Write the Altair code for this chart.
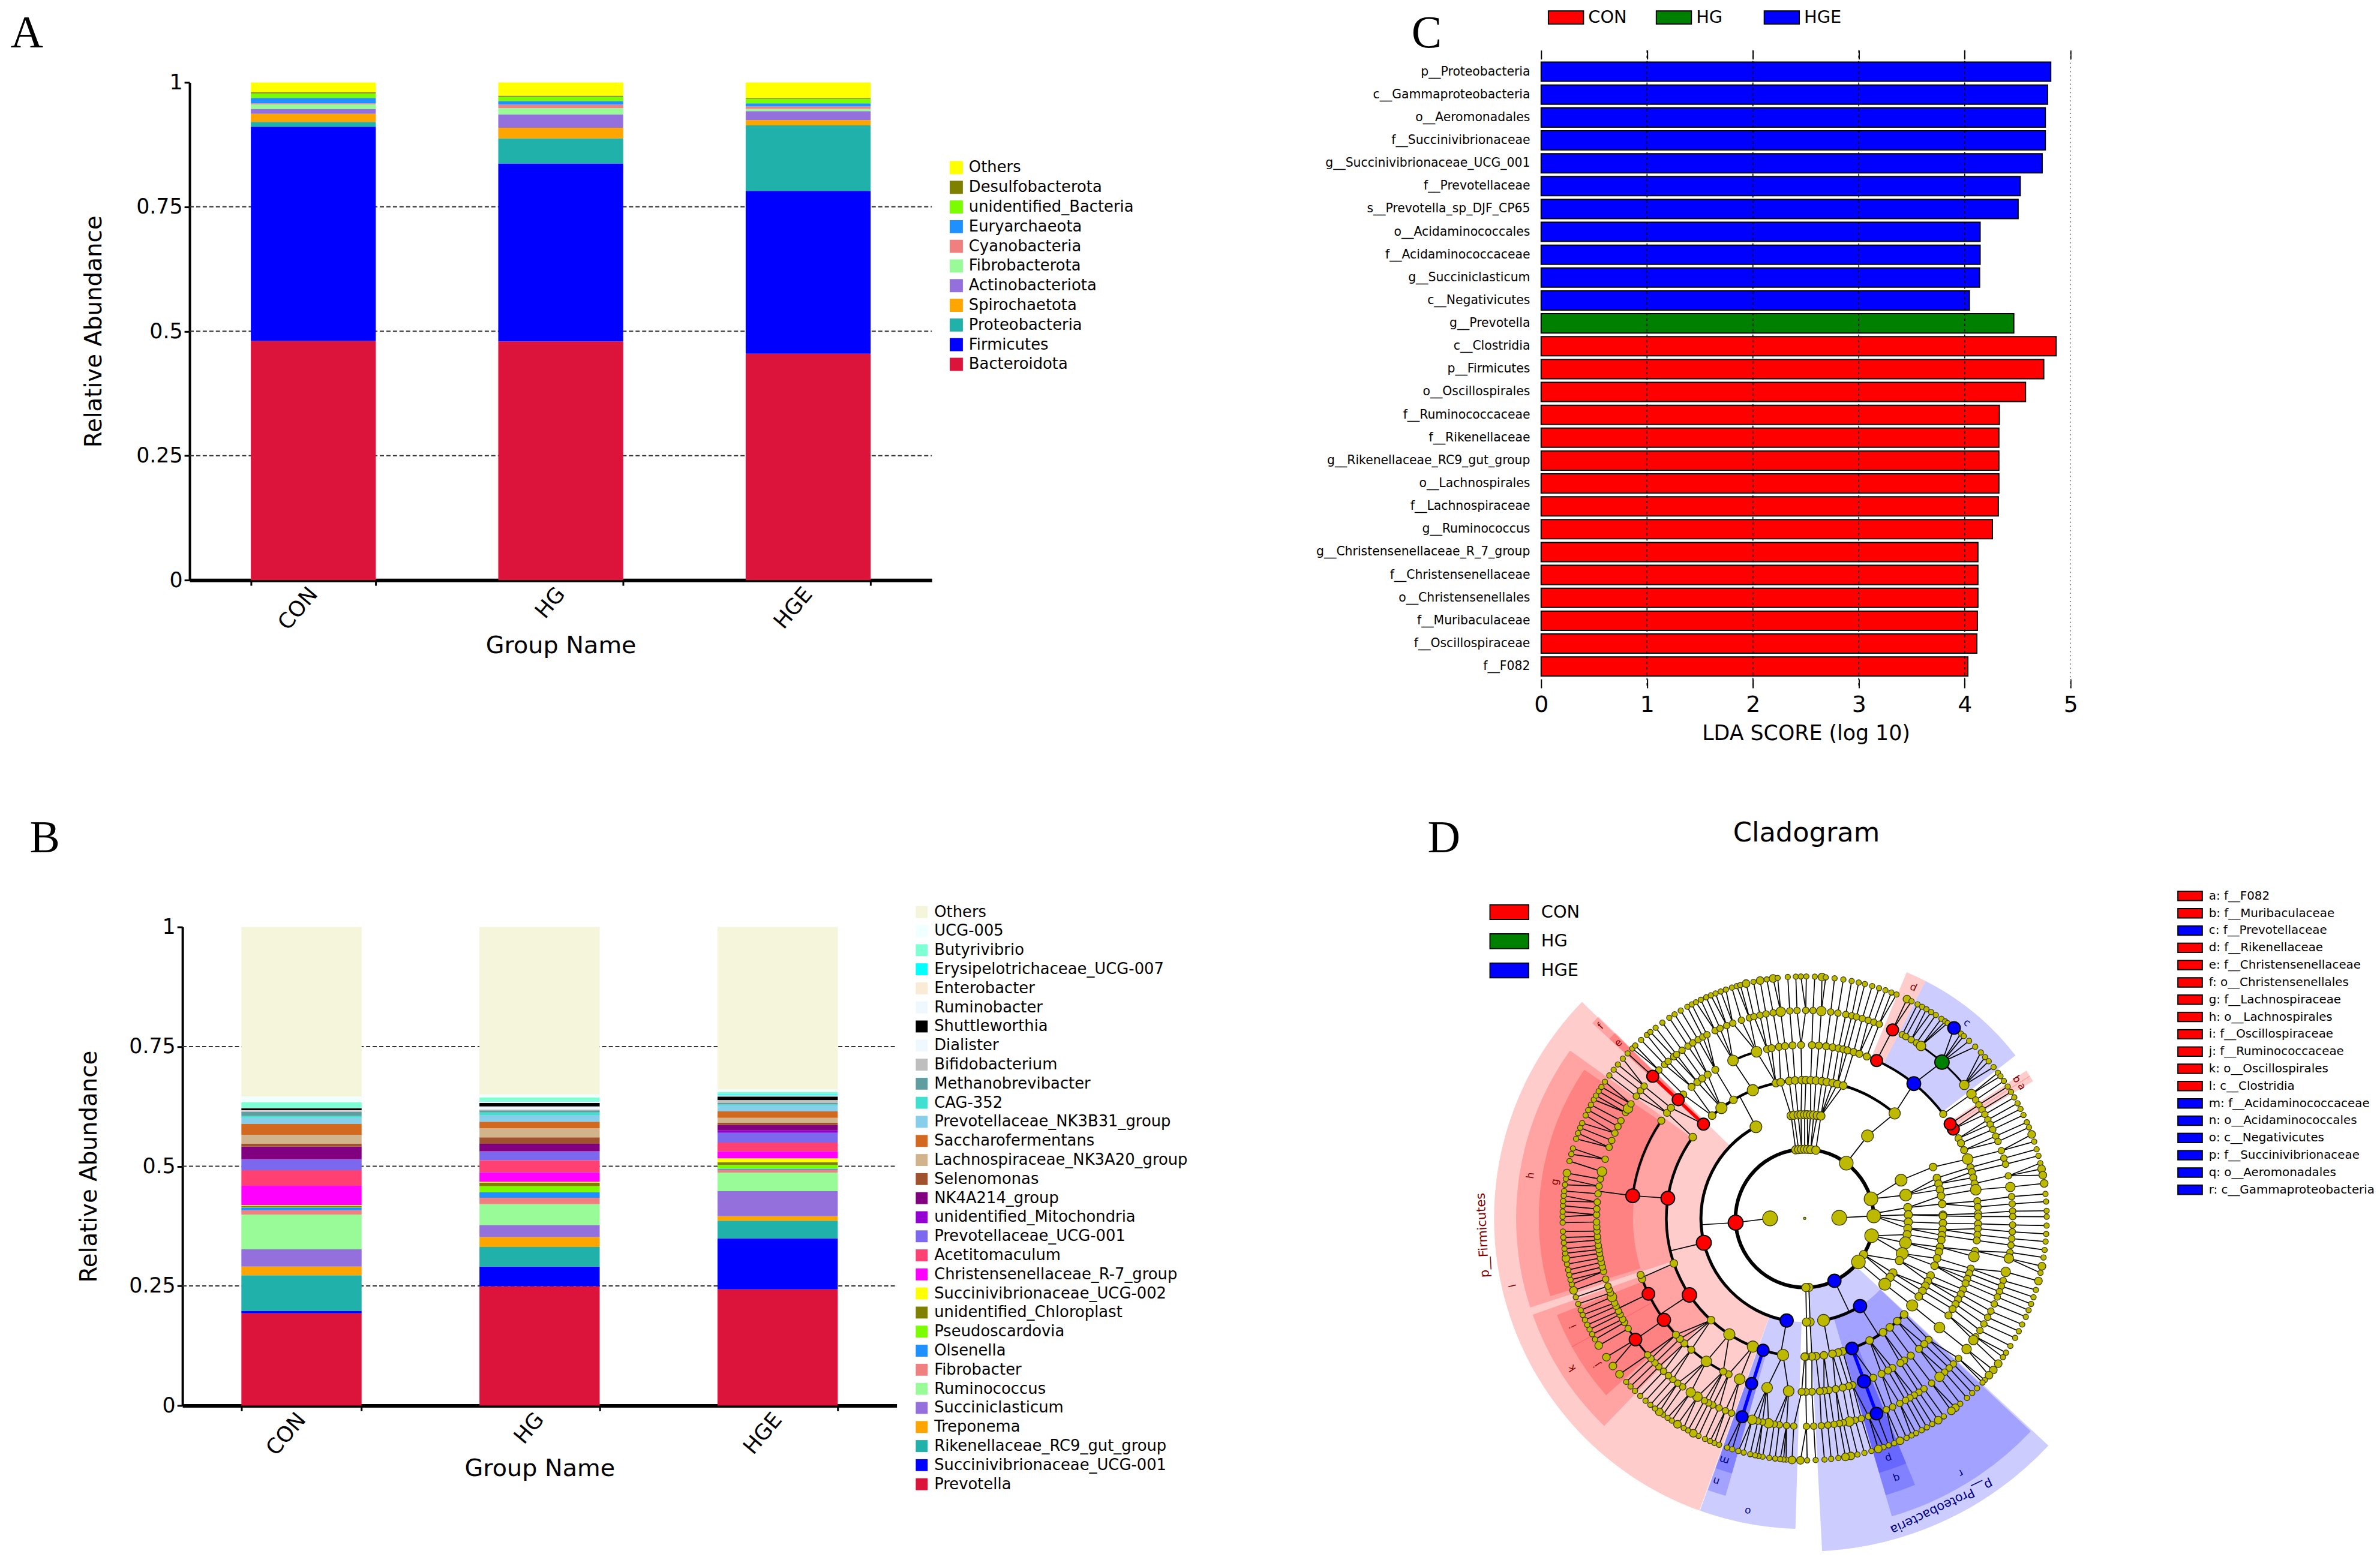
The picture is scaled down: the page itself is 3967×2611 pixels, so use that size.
import math
import altair as alt
import pandas as pd

FONT = "DejaVu Sans"
SERIF = "Liberation Serif"
GROUPS = ["CON", "HG", "HGE"]
W, H = 3959, 2603

# ---------- Panel A : cumulative tops ----------
A_TAXA = ["Bacteroidota", "Firmicutes", "Proteobacteria", "Spirochaetota", "Actinobacteriota",
          "Fibrobacterota", "Cyanobacteria", "Euryarchaeota", "unidentified_Bacteria",
          "Desulfobacterota", "Others"]
A_COLORS = ["#DC143C", "#0000FF", "#20B2AA", "#FFA500", "#9370DB", "#98FB98", "#F08080",
            "#1E90FF", "#7CFC00", "#808000", "#FFFF00"]
A_CON = [.4805, .911, .9208, .937, .947, .956, .958, .969, .978, .980, 1]
A_HG = [.4796, .8373, .8875, .9088, .9357, .9485, .9554, .9626, .9714, .9734, 1]
A_HGE = [.4548, .782, .9136, .9244, .9425, .947, .9518, .958, .967, .969, 1]

# ---------- Panel B ----------
B_TAXA = ["Prevotella", "Succinivibrionaceae_UCG-001", "Rikenellaceae_RC9_gut_group", "Treponema",
          "Succiniclasticum", "Ruminococcus", "Fibrobacter", "Olsenella", "Pseudoscardovia",
          "unidentified_Chloroplast", "Succinivibrionaceae_UCG-002", "Christensenellaceae_R-7_group",
          "Acetitomaculum", "Prevotellaceae_UCG-001", "unidentified_Mitochondria", "NK4A214_group",
          "Selenomonas", "Lachnospiraceae_NK3A20_group", "Saccharofermentans",
          "Prevotellaceae_NK3B31_group", "CAG-352", "Methanobrevibacter", "Bifidobacterium",
          "Dialister", "Shuttleworthia", "Ruminobacter", "Enterobacter",
          "Erysipelotrichaceae_UCG-007", "Butyrivibrio", "UCG-005", "Others"]
B_COLORS = ["#DC143C", "#0000FF", "#20B2AA", "#FFA500", "#9370DB", "#98FB98", "#F08080", "#1E90FF",
            "#7CFC00", "#808000", "#FFFF00", "#FF00FF", "#FF4073", "#7B68EE", "#9400D3", "#800080",
            "#A0522D", "#D2B48C", "#D2691E", "#87CEEB", "#40E0D0", "#5F9EA0", "#BEBEBE", "#F0F8FF",
            "#000000", "#F0F8FF", "#FAEBD7", "#00FFFF", "#7FFFD4", "#F0FFFF", "#F5F5DC"]
B_CON = [.1925, .1979, .2721, .2904, .3263, .3992, .4083, .4138, .4146, .4167, .4188, .4592, .4917,
         .5138, .5146, .5409, .5471, .5658, .5883, .6013, .6050, .6138, .6167, .6170, .6209, .6212,
         .6215, .6218, .6342, .6458, 1]
B_HG = [.2492, .2904, .3313, .3521, .3771, .4208, .4342, .4458, .4583, .4654, .4675, .4875, .5125,
        .5304, .5313, .5471, .5604, .5792, .5929, .6071, .6125, .6167, .6188, .625, .6321, .6346,
        .6354, .6362, .6438, .65, 1]
B_HGE = [.2429, .3492, .3863, .3958, .4479, .4867, .4929, .495, .5029, .5083, .5167, .5313, .5496,
         .57, .575, .5863, .5908, .6013, .6146, .6271, .6292, .6321, .6375, .6383, .6458, .6471,
         .6479, .65, .6554, .6604, 1]

# ---------- Panel C ----------
C_NAMES = ["p__Proteobacteria", "c__Gammaproteobacteria", "o__Aeromonadales", "f__Succinivibrionaceae",
           "g__Succinivibrionaceae_UCG_001", "f__Prevotellaceae", "s__Prevotella_sp_DJF_CP65",
           "o__Acidaminococcales", "f__Acidaminococcaceae", "g__Succiniclasticum", "c__Negativicutes",
           "g__Prevotella", "c__Clostridia", "p__Firmicutes", "o__Oscillospirales", "f__Ruminococcaceae",
           "f__Rikenellaceae", "g__Rikenellaceae_RC9_gut_group", "o__Lachnospirales", "f__Lachnospiraceae",
           "g__Ruminococcus", "g__Christensenellaceae_R_7_group", "f__Christensenellaceae",
           "o__Christensenellales", "f__Muribaculaceae", "f__Oscillospiraceae", "f__F082"]
C_VALUES = [4.813, 4.783, 4.762, 4.762, 4.732, 4.525, 4.505, 4.146, 4.146, 4.141, 4.045, 4.464, 4.864,
            4.747, 4.575, 4.328, 4.323, 4.323, 4.323, 4.318, 4.262, 4.125, 4.125, 4.125, 4.12, 4.115, 4.03]
C_GROUP = ["HGE"] * 11 + ["HG"] + ["CON"] * 15

# ---------- Panel D : angles in degrees clockwise from the top, one list per ring ----------
RADII = [58, 116, 174, 232, 291, 349, 406]
RING1 = [270, 89]
RING2 = [352.6, 355, 357.5, 0, 2.5, 5, 9.3, 37, 73.6, 86, 88, 104.5, 121.6, 129, 176.5, 179]
RING3 = [332, 352.5, 354, 356.4, 358, 0, 1.5, 3.3, 5, 7, 9, 37.3, 68.4, 77, 84, 88, 92, 95.6, 99, 103.6,
         109.8, 114, 121.7, 124.6, 129.4, 169.5, 177, 179]
RING4 = [306, 318, 323, 329, 338, 348, 350, 353.6, 356, 358.8, 0.5, 2.5, 4.7, 7.2, 9.2, 11.7, 13.7, 16.2,
         40.6, 68.2, 73, 75.5, 78, 80.6, 84, 88.5, 89, 92, 94.7, 97, 99, 102, 104, 106.8, 110, 114.4, 117,
         119.2, 121.6, 124.4, 129, 134, 138, 142, 145.5, 152, 164, 166, 168.4, 172, 175.3, 177, 179.5,
         180, 189, 202, 213, 222.6, 251]
RING5 = [2.4, 4.7, 7.1, 9.3, 11.3, 12.9, 14.3, 16.4, 18.4, 21, 53, 62.5, 64.3, 66.8, 70, 72.9, 74.5, 76.4,
         78.4, 80.5, 84.3, 86.2, 88.4, 89.4, 91.8, 93.4, 95.4, 97.3, 100.8, 102.7, 106.8, 108.5, 110.4,
         112, 114.2, 115.9, 117.8, 119.6, 121.5, 124, 129, 134.4, 136.4, 138.8, 142.3, 145, 146.5, 149.6,
         151.3, 153.7, 156.7, 164, 165.3, 167.3, 169.7, 172, 173.6, 175, 177.6, 179.6, 181, 185.3, 192.5,
         202, 206, 208, 214.5, 220.8, 223.9, 226, 227.9, 249.5, 251, 304.3, 307.5, 309.6, 315.6, 319.3,
         321.8, 323.8, 326, 329, 335.6, 343.9, 347.5, 349, 351.5, 353.5, 356, 358.8]
RING6 = [0.3, 2.3, 4.6, 7.2, 9.2, 11.4, 13.1, 14.4, 16.1, 17.8, 19.4, 21, 28, 29.1, 30.8, 32.5, 34, 50.1,
         53.3, 55.3, 56.9, 58.5, 60, 61.7, 63.1, 64.7, 66.7, 68.3, 71, 73.2, 74.9, 78.2, 81.3, 84, 86, 88,
         89.5, 91.8, 93.7, 95.6, 97.4, 99.4, 101.1, 104.9, 107.4, 109, 110.6, 112.2, 114.3, 116.5, 118.4,
         120.5, 122.6, 124.7, 125.8, 128.9, 132.3, 134.4, 136, 137.7, 139.6, 142.4, 145, 146.7, 148.2,
         149.6, 151, 152.8, 155, 156.9, 162.1, 164.2, 165.9, 167.6, 169.3, 170.4, 171.9, 173.6, 175.4,
         177.5, 179.5, 183, 185, 187, 188.4, 190, 191.7, 193, 194.6, 200.6, 202.4, 204.3, 206.2, 207.5,
         208.8, 211, 213.2, 215.9, 217.6, 219.3, 220.9, 222.7, 224.5, 226, 227.6, 229, 238, 240, 241,
         242.5, 243.5, 245, 246, 247.8, 249, 250, 251, 253, 255.2, 256.5, 257.8, 259, 260.3, 261.4, 262.5,
         264, 265, 266.5, 267.7, 269, 271, 272.6, 274.5, 276.8, 278.9, 280.9, 283, 286.5, 290, 292, 294.2,
         296.2, 298, 300.6, 301.9, 303.4, 306, 307.9, 309.5, 315.5, 317.7, 319, 321, 322, 323.9, 325.9,
         327.5, 329.2, 330.7, 332, 334.5, 336, 338, 339.8, 342.3, 344.6, 345.9, 347.6, 349.3, 351.3, 353.4,
         355.9, 357.9]
RING7 = [0.4, 2.4, 4.1, 5, 7.1, 9.2, 11.2, 12.9, 14.4, 16.2, 17.9, 19.5, 21, 22.3, 25, 26.2, 27.8, 29, 30.2,
         31.5, 32.8, 34.4, 35.5, 36.2, 40.2, 41.1, 42.8, 44.8, 46.7, 48.2, 49.5, 51.3, 53, 54, 55.4, 57,
         58.5, 60, 61.6, 63.1, 64.7, 66.6, 67.9, 69.7, 71.5, 73.4, 75, 76.8, 78.2, 79.7, 81.7, 84.2, 86,
         88.2, 89.6, 91.7, 93.7, 95.5, 97.5, 99.3, 101.4, 103, 105, 107.2, 109, 110.7, 112.3, 114, 116,
         117.8, 119.6, 121.8, 123.7, 125, 126.9, 128.8, 130.4, 131.9, 132.7, 134.6, 136.2, 137.9, 140,
         141.5, 142.7, 144.9, 146.5, 148.2, 149.7, 151.1, 152.6, 153.8, 155.1, 156.8, 158.3, 159.7, 161,
         162.3, 164, 165.7, 167.4, 169, 170.3, 172, 173.7, 175.3, 177.4, 179.4, 181, 183, 184.4, 185,
         185.8, 187, 188.4, 190, 191, 191.8, 193, 194.6, 195.9, 197.4, 198.7, 200.7, 201.9, 203, 204.3,
         206, 207.4, 208.8, 210, 211.7, 213.3, 214.5, 215.8, 216.9, 218.2, 219.6, 221.1, 222.8, 224.5, 226,
         227.5, 229.9, 232.4, 235, 238.3, 240, 241.4, 242.7, 243.9, 245.2, 246.5, 247.7, 249.3, 251, 252.7,
         254.2, 255.3, 256.5, 257.7, 259.1, 260.5, 261.7, 262.8, 264.2, 265.5, 266.9, 269, 270.4, 271.6,
         273, 274.1, 275.4, 276.5, 278, 279.4, 280.8, 283.7, 285.4, 286.8, 289.2, 290.6, 292, 293.2, 295.2,
         296.6, 298, 299.4, 300.5, 301.7, 302.9, 304.4, 306.2, 307.9, 309.5, 311.3, 313, 314.6, 315.6,
         317.5, 319.3, 320.4, 322, 324, 326, 327.5, 329.2, 331, 332.2, 333.3, 334.6, 336, 337.2, 338.4,
         339.7, 341, 342.5, 343.7, 344.6, 346, 347.8, 349.4, 351, 352.5, 353.6, 356, 357.9, 359.1]
RINGS = [RING1, RING2, RING3, RING4, RING5, RING6, RING7]
BIG = [[270, 89], [37, 73.6, 88, 104.5, 129],
       [332, 37.3, 68.4, 77, 103.6, 109.8, 129.4, 169.5],
       [323, 338, 40.6, 129, 189, 202, 213],
       [335.6, 343.9, 70, 80.5, 102.7, 129, 185.3, 192.5, 202, 214.5],
       [4.6, 34, 50.1, 53.3, 81.3, 101.1, 104.9, 125.8, 128.9, 139.6, 167.6, 190, 194.6, 211, 213.2,
        247.8, 283, 301.9, 353.4],
       [4.1, 25, 69.7, 78.2, 79.7, 81.7, 101.4, 105, 126.9, 128.8, 130.4, 141.5, 142.7, 146.5, 156.8,
        162.3, 169, 170.3, 181, 183, 207.4, 211.7, 216.9, 229.9, 232.4, 235, 238.3, 252.7, 260.5, 280.8,
        346, 349.4, 352.5]]
DIAM = [(25, 25), (14, 23), (14, 20), (13, 19), (12, 18), (11, 16), (9, 13)]
# ring radius, angle, colour, diameter
MARKED = [(116, 266.5, "#FF0000", 25), (116, 154.5, "#0000FF", 22), (174, 256.4, "#FF0000", 25),
          (174, 190, "#0000FF", 22), (174, 147.7, "#0000FF", 22), (232, 236.4, "#FF0000", 24),
          (232, 278.4, "#FF0000", 23), (232, 313, "#FF0000", 20), (232, 197.5, "#0000FF", 20),
          (232, 160, "#0000FF", 21), (291, 234.2, "#FF0000", 22), (291, 244.2, "#FF0000", 21),
          (291, 277.5, "#FF0000", 23), (291, 313.2, "#FF0000", 20), (291, 24.5, "#FF0000", 20),
          (291, 59, "#FF0000", 20), (291, 57, "#FF0000", 20), (291, 197.8, "#0000FF", 20),
          (291, 160, "#0000FF", 22), (291, 39, "#0000FF", 23), (349, 234.4, "#FF0000", 21),
          (349, 313.1, "#FF0000", 20), (349, 25, "#FF0000", 20), (349, 41.3, "#008000", 24),
          (349, 197.5, "#0000FF", 20), (349, 159.8, "#0000FF", 21), (406, 38.1, "#0000FF", 21)]
# start angle, end angle, inner radius, outer radius
RED_WEDGES = [(199.8, 314.2, 175, 521), (252, 305.6, 232, 484), (224, 250.5, 232, 484),
              (253, 304, 288, 446), (241, 248.7, 288, 446), (228.3, 241.2, 288, 446),
              (312.6, 314.4, 232, 484), (312.6, 314.4, 291, 445), (22.5, 27, 291, 447),
              (56.3, 57.8, 291, 447), (57.6, 59, 291, 447)]
BLUE_WEDGES = [(133, 177, 116, 559), (133.3, 163.7, 174, 521), (157.5, 163.7, 232, 484),
               (157.5, 163.7, 291, 445), (181.7, 199.7, 174, 521), (195.9, 199.6, 232, 484),
               (195.9, 199.6, 291, 445), (27, 52.3, 291, 447)]
# ring radius, start angle, end angle, thickness
THICK_ARCS = [(116, 180, 448, 6), (116, 104.5, 176.5, 6), (174, 190, 332, 5), (174, 147.7, 169.5, 5),
              (232, 189, 306, 4.5), (232, 318, 400.6, 4.5), (232, 134, 160, 4.5), (291, 208, 251, 4),
              (291, 278, 304, 4), (291, 335.6, 344, 4), (291, 24.5, 53, 4), (349, 34, 50.1, 3),
              (349, 229, 240, 3)]
# from radius, from angle, to radius, to angle
THIN_LINKS = [(58, 270, 116, 266.5), (58, 89, 116, 88), (116, 266.5, 174, 266.5), (116, 37, 174, 37.3),
              (116, 154.5, 174, 154.5), (116, 176.5, 174, 177), (116, 179, 174, 179),
              (174, 169.5, 232, 169.5), (174, 177, 232, 177), (174, 179, 232, 179), (174, 190, 232, 190),
              (174, 256.4, 232, 256.4), (174, 332, 232, 332), (174, 37.3, 232, 40.6), (174, 129.4, 232, 129),
              (174, 147.7, 232, 147.7), (232, 236.4, 291, 236.4), (232, 278.4, 291, 277.5),
              (232, 251, 291, 250), (232, 40.6, 291, 39), (291, 24.5, 349, 25), (291, 234.2, 349, 234.4),
              (291, 244.2, 349, 244.2), (291, 277.5, 349, 277.5), (291, 39, 349, 41.3), (291, 53, 349, 53.3)]
COLOR_BARS = [(232, 313, 349, 313.1, "#FF0000"), (232, 197.5, 349, 197.5, "#0000FF"),
              (232, 160, 349, 159.8, "#0000FF")]
# Nearest-parent links are left out where the picture has an arc instead of lines.
# The keys are positions in RINGS of the child ring.
SKIP = {2: [(130, 352), (10, 67)], 3: [(126, 349), (20, 65)],
        4: [(279, 306), (17, 68), (233, 252)], 5: [(233, 304), (26, 56)]}
# text, angle around the tree, radius, colour, size
D_LABELS = [("p__Firmicutes", 267, 540, "#800000", 21), ("h", 278.9, 465, "#800000", 17),
            ("g", 278.3, 423, "#800000", 17), ("l", 257, 502, "#800000", 17), ("k", 237.2, 464, "#800000", 17),
            ("i", 245, 428, "#800000", 17), ("j", 234.8, 426, "#800000", 17), ("f", 313.3, 470, "#800000", 17),
            ("e", 313.3, 429, "#800000", 17), ("d", 25.2, 428, "#800000", 17), ("b", 56.7, 425, "#800000", 17),
            ("a", 58.7, 426, "#800000", 17), ("o", 191, 500, "#000080", 17), ("m", 198.4, 427, "#000080", 17),
            ("n", 198.6, 465, "#000080", 17), ("p", 160.7, 426, "#000080", 17), ("q", 160.5, 462, "#000080", 17),
            ("r", 148.5, 501, "#000080", 17), ("c", 39.7, 426, "#000080", 17),
            ("p__Proteobacteria", 154.6, 535, "#000080", 21)]
D_KEY = ["a: f__F082", "b: f__Muribaculaceae", "c: f__Prevotellaceae", "d: f__Rikenellaceae",
         "e: f__Christensenellaceae", "f: o__Christensenellales", "g: f__Lachnospiraceae",
         "h: o__Lachnospirales", "i: f__Oscillospiraceae", "j: f__Ruminococcaceae", "k: o__Oscillospirales",
         "l: c__Clostridia", "m: f__Acidaminococcaceae", "n: o__Acidaminococcales", "o: c__Negativicutes",
         "p: f__Succinivibrionaceae", "q: o__Aeromonadales", "r: c__Gammaproteobacteria"]
D_KEY_COLORS = ["#FF0000", "#FF0000", "#0000FF"] + ["#FF0000"] * 9 + ["#0000FF"] * 6
PANEL_TEXT = ["A", "B", "C", "D"]


def long_table(taxa, *series):
    rows = []
    for group, tops in zip(GROUPS, series):
        low = 0
        for taxon, top in zip(taxa, tops):
            rows.append({"group": group, "taxon": taxon, "lo": low, "hi": top})
            low = top
    return pd.DataFrame(rows)


def stacked(taxa, colors, table, left, right, top, bottom, leg_x, leg_y, sym, row_pad, lab_size, title_pad,
            x_title_pad):
    y_scale = alt.Scale(domain=[0, 1], nice=False, range=[bottom, top])
    y_axis = alt.Axis(orient="left", offset=-left, title="Relative Abundance", titleFont=FONT,
                      titleFontSize=39, titleFontWeight="normal", titlePadding=title_pad,
                      labelFont=FONT, labelFontSize=35, labelColor="black", values=[0, .25, .5, .75, 1],
                      format=".2~f", grid=False, tickSize=9, tickWidth=3, tickColor="black",
                      domainWidth=4, domainColor="black", labelPadding=3)
    rules = alt.Chart(pd.DataFrame({"v": [.25, .5, .75]})).mark_rule(
        color="#333333", strokeWidth=2, strokeDash=[7, 4]).encode(
        alt.Y("v:Q", scale=y_scale, axis=y_axis), x=alt.value(left), x2=alt.value(right))
    bars = alt.Chart(table).mark_bar().encode(
        alt.X("group:N", sort=GROUPS,
              scale=alt.Scale(domain=GROUPS, range=[left, right], paddingInner=.495, paddingOuter=.2475),
              axis=alt.Axis(orient="bottom", offset=bottom - H, title="Group Name", titleFont=FONT,
                            titleFontSize=40, titleFontWeight="normal", titlePadding=x_title_pad,
                            labelFont=FONT, labelFontSize=36, labelAngle=-50, labelColor="black",
                            labelPadding=8, tickBand="extent", tickSize=9, tickWidth=3, tickColor="black",
                            domainWidth=6, domainColor="black")),
        alt.Y("lo:Q", scale=y_scale, axis=y_axis),
        alt.Y2("hi:Q"),
        alt.Color("taxon:N", scale=alt.Scale(domain=taxa, range=colors),
                  legend=alt.Legend(orient="none", legendX=leg_x, legendY=leg_y, title=None,
                                    values=taxa[::-1], symbolType="square", symbolSize=sym,
                                    symbolStrokeWidth=0, rowPadding=row_pad, labelFont=FONT,
                                    labelFontSize=lab_size, labelColor="black", labelOffset=8,
                                    labelLimit=600, symbolLimit=0)),
    )
    return alt.layer(rules, bars)


panel_a = stacked(A_TAXA, A_COLORS, long_table(A_TAXA, A_CON, A_HG, A_HGE), 296, 1541, 122, 957,
                  1569, 252, 484, 7, 26, 51, 0)
panel_b = stacked(B_TAXA, B_COLORS, long_table(B_TAXA, B_CON, B_HG, B_HGE), 284, 1482, 1539, 2342,
                  1511, 1501, 400, 6, 26, 47, -4)

# ---------- Panel C ----------
C_L, C_R, C_T, C_B = 2563, 3451, 68, 1138
c_table = pd.DataFrame({"name": C_NAMES, "score": C_VALUES, "group": C_GROUP})
c_x = alt.Scale(domain=[0, 5], nice=False, range=[C_L, C_R])
c_bars = alt.Chart(c_table).mark_bar(stroke="black", strokeWidth=2).encode(
    alt.X("score:Q", scale=c_x,
          axis=alt.Axis(orient="bottom", offset=C_B - H - 15, title="LDA SCORE (log 10)", titleFont=FONT,
                        titleFontSize=35, titleFontWeight="normal", titlePadding=11, labelFont=FONT,
                        labelFontSize=38, labelColor="black", values=[0, 1, 2, 3, 4, 5], format="d", grid=False,
                        domain=False, tickSize=15, tickWidth=2, tickColor="black", labelPadding=10,
                        labelFlush=False)),
    alt.Y("name:N", sort=C_NAMES, scale=alt.Scale(range=[C_T, C_B], paddingInner=.16, paddingOuter=.52),
          axis=alt.Axis(orient="left", offset=-C_L, title=None, labelFont=FONT, labelFontSize=20.5,
                        labelColor="black", ticks=False, domain=False, labelPadding=19, labelLimit=600)),
    alt.Color("group:N", scale=alt.Scale(domain=GROUPS, range=["#FF0000", "#008000", "#0000FF"]),
              legend=alt.Legend(orient="none", legendX=2574, legendY=0, title=None, direction="horizontal",
                                columns=3, gridAlign="all", symbolType="M-1,-0.37H1V0.37H-1Z", symbolSize=3481,
                                symbolStrokeColor="black", symbolStrokeWidth=2, symbolOpacity=1, clipHeight=26,
                                labelFont=FONT, labelFontSize=29, labelColor="black", labelOffset=7,
                                columnPadding=48)),
)
c_top_scale = alt.Scale(domain=[0, 5], nice=False, range=[C_L, C_R])
c_top = alt.Chart(pd.DataFrame({"v": [0, 1, 2, 3, 4, 5]})).mark_tick(opacity=0).encode(
    alt.X("v:Q", scale=c_top_scale,
          axis=alt.Axis(orient="top", offset=-(C_T + 15), title=None, labels=False, domain=False, grid=False,
                        values=[0, 1, 2, 3, 4, 5], tickSize=15, tickWidth=2, tickColor="black")))
c_grid = alt.Chart(pd.DataFrame({"v": [1, 2, 3, 4]})).mark_rule(
    color="black", strokeWidth=1.6, strokeDash=[4, 5]).encode(
    alt.X("v:Q", scale=c_x, axis=None), y=alt.value(C_T), y2=alt.value(C_B))
c_five = alt.Chart(pd.DataFrame({"v": [5]})).mark_rule(
    color="#777777", strokeWidth=1.6, strokeDash=[2, 5]).encode(
    alt.X("v:Q", scale=c_x, axis=None), y=alt.value(C_T), y2=alt.value(C_B))
panel_c = alt.layer(c_bars, c_top, c_grid, c_five).resolve_axis(x="independent")


# ---------- Panel D ----------
def polar(r, a):
    rad = math.radians(a)
    return r * math.sin(rad), -r * math.cos(rad)


def gap(a, b):
    return abs((a - b + 180) % 360 - 180)


def skipped(level, a):
    return any(lo <= a <= hi for lo, hi in SKIP.get(level, []))


edge_rows = []
for r0, a0, r1, a1 in THIN_LINKS:
    x0, y0 = polar(r0, a0)
    x1, y1 = polar(r1, a1)
    edge_rows.append({"x": x0, "y": y0, "x2": x1, "y2": y1})
for level in [2, 3, 4, 5, 6]:
    parents = RINGS[level - 1] + [m[1] for m in MARKED if m[0] == RADII[level - 1]]
    children = RINGS[level] + [m[1] for m in MARKED if m[0] == RADII[level] and level == 6]
    for a in children:
        if skipped(level, a):
            continue
        p = min(parents, key=lambda q: gap(q, a))
        x0, y0 = polar(RADII[level - 1], p)
        x1, y1 = polar(RADII[level], a)
        edge_rows.append({"x": x0, "y": y0, "x2": x1, "y2": y1})
edges = pd.DataFrame(edge_rows)

node_rows = [{"x": 0, "y": 0, "s": 16}]
for radius, ring, big, (small_d, big_d) in zip(RADII, RINGS, BIG, DIAM):
    for a in ring:
        x, y = polar(radius, a)
        node_rows.append({"x": x, "y": y, "s": (big_d if a in big else small_d) ** 2})
nodes = pd.DataFrame(node_rows)

marked_rows = []
for radius, a, color, d in MARKED:
    x, y = polar(radius, a)
    marked_rows.append({"x": x, "y": y, "s": d ** 2, "c": color})
marked = pd.DataFrame(marked_rows)

bar_rows = []
for r0, a0, r1, a1, color in COLOR_BARS:
    x0, y0 = polar(r0, a0)
    x1, y1 = polar(r1, a1)
    bar_rows.append({"x": x0, "y": y0, "x2": x1, "y2": y1, "c": color})
color_bars = pd.DataFrame(bar_rows)

label_rows = []
for text, a, radius, color, size in D_LABELS:
    x, y = polar(radius, a)
    label_rows.append({"x": x, "y": y, "t": text, "a": a, "c": color, "f": size})
labels = pd.DataFrame(label_rows)

CX, CY = 3005, 2028
D_X = alt.Scale(domain=[-560, 560], range=[CX - 560, CX + 560], nice=False)
D_Y = alt.Scale(domain=[-560, 560], range=[CY - 560, CY + 560], nice=False)
D_T = alt.Scale(domain=[0, 360], range=[0, 2 * math.pi])
D_R = alt.Scale(type="linear", domain=[0, 560], range=[0, 560])


def arc_layer(df, color, opacity):
    return alt.Chart(df).mark_arc(color=color, opacity=opacity).encode(
        alt.Theta("a0:Q", scale=D_T, stack=None), alt.Theta2("a1:Q"),
        alt.Radius("r1:Q", scale=D_R), alt.Radius2("r0:Q"),
        x=alt.value(CX), y=alt.value(CY))


def wedge_layer(rows, color, opacity):
    return arc_layer(pd.DataFrame(rows, columns=["a0", "a1", "r0", "r1"]), color, opacity)


thick = pd.DataFrame([{"a0": a0, "a1": a1, "r0": r - w / 2, "r1": r + w / 2} for r, a0, a1, w in THICK_ARCS])
line_layer = alt.Chart(edges).mark_rule(color="black", strokeWidth=1.7).encode(
    alt.X("x:Q", scale=D_X, axis=None), alt.Y("y:Q", scale=D_Y, axis=None), alt.X2("x2:Q"), alt.Y2("y2:Q"))
bar_layer = alt.Chart(color_bars).mark_rule(strokeWidth=5.5).encode(
    alt.X("x:Q", scale=D_X, axis=None), alt.Y("y:Q", scale=D_Y, axis=None), alt.X2("x2:Q"), alt.Y2("y2:Q"),
    alt.Color("c:N", scale=None))
node_layer = alt.Chart(nodes).mark_point(filled=True, fill="#BDB800", stroke="#3B3A00", strokeWidth=1.3,
                                         opacity=1, shape="circle").encode(
    alt.X("x:Q", scale=D_X, axis=None), alt.Y("y:Q", scale=D_Y, axis=None), alt.Size("s:Q", scale=None))
mark_layer = alt.Chart(marked).mark_point(filled=True, stroke="black", strokeWidth=2, opacity=1,
                                          shape="circle").encode(
    alt.X("x:Q", scale=D_X, axis=None), alt.Y("y:Q", scale=D_Y, axis=None), alt.Size("s:Q", scale=None),
    alt.Fill("c:N", scale=None))
label_layer = alt.Chart(labels).mark_text(font=FONT, align="center", baseline="middle").encode(
    alt.X("x:Q", scale=D_X, axis=None), alt.Y("y:Q", scale=D_Y, axis=None), alt.Text("t:N"),
    alt.Angle("a:Q", scale=None), alt.Color("c:N", scale=None), alt.Size("f:Q", scale=None))
key_groups = alt.Chart(pd.DataFrame({"g": GROUPS})).mark_square(opacity=0, size=1).encode(
    alt.Color("g:N", scale=alt.Scale(domain=GROUPS, range=["#FF0000", "#008000", "#0000FF"]),
              legend=alt.Legend(orient="none", legendX=2476, legendY=1500, title=None,
                                symbolType="M-1,-0.38H1V0.38H-1Z", symbolSize=4225, symbolStrokeColor="black",
                                symbolStrokeWidth=2, symbolOpacity=1, clipHeight=28, rowPadding=20,
                                labelFont=FONT, labelFontSize=29, labelColor="black", labelOffset=20)))
key_clades = alt.Chart(pd.DataFrame({"k": D_KEY})).mark_square(opacity=0, size=1).encode(
    alt.Fill("k:N", scale=alt.Scale(domain=D_KEY, range=D_KEY_COLORS),
             legend=alt.Legend(orient="none", legendX=3630, legendY=1478, title=None, values=D_KEY,
                               symbolType="M-1,-0.38H1V0.38H-1Z", symbolSize=1681, symbolStrokeColor="black",
                               symbolStrokeWidth=2, symbolOpacity=1, clipHeight=18, rowPadding=9,
                               labelFont=FONT, labelFontSize=20, labelColor="black", labelOffset=10,
                               labelLimit=500)))
panel_d = alt.layer(
    wedge_layer(RED_WEDGES, "#FF0000", .2), wedge_layer(BLUE_WEDGES, "#0000FF", .2),
    line_layer, arc_layer(thick, "black", 1), bar_layer, node_layer, mark_layer, label_layer,
    key_groups, key_clades,
).resolve_scale(color="independent", fill="independent")


def caption(text, x, y, font, size):
    return alt.Chart(pd.DataFrame({"t": [text]})).mark_text(
        font=font, fontSize=size, color="black", align="center", baseline="middle").encode(
        x=alt.value(x), y=alt.value(y), text="t:N")


chart = alt.layer(
    panel_a, panel_b, panel_c, panel_d,
    caption(PANEL_TEXT[0], 23, 40, SERIF, 76), caption(PANEL_TEXT[1], 53, 1391, SERIF, 76),
    caption(PANEL_TEXT[2], 2371, 40, SERIF, 76), caption(PANEL_TEXT[3], 2400, 1391, SERIF, 76),
    caption("Cladogram", 3008, 1382, FONT, 45),
).resolve_scale(x="independent", y="independent", color="independent", fill="independent").properties(
    width=W, height=H, padding=0, background="white"
).configure_view(stroke=None)
chart.save("out.html", embed_options={"renderer": "svg", "actions": False})
